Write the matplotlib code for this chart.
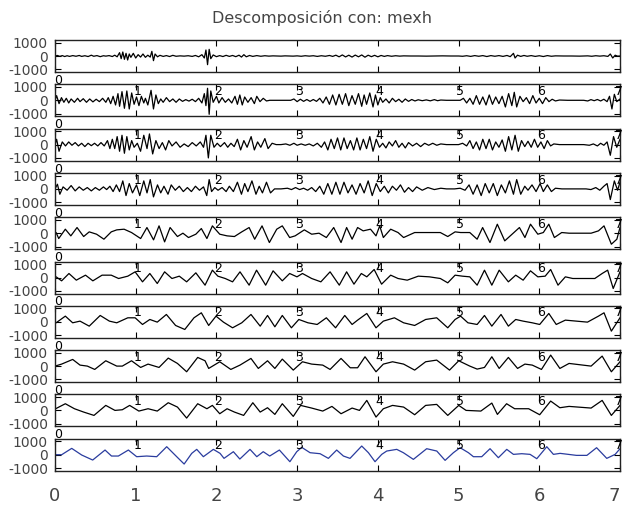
import numpy as np
import matplotlib.pyplot as plt

# Coeficientes de la descomposición (tiempo, amplitud), leídos escala por escala
escala_1 = [(0.00, 0), (0.03, 40), (0.06, -30), (0.09, 30), (0.12, -40), (0.15, 20), (0.18, -30),
            (0.22, 30), (0.26, -20), (0.30, 40), (0.33, -30), (0.37, 20), (0.41, -40), (0.45, 60),
            (0.48, -20), (0.52, 30), (0.56, -50), (0.60, 20), (0.63, -10), (0.67, 30), (0.71, -40),
            (0.74, 60), (0.77, -60), (0.80, 250), (0.82, -200), (0.84, 300), (0.86, -250),
            (0.88, 200), (0.90, -300), (0.92, 150), (0.94, -100), (0.97, 200), (1.00, -150),
            (1.03, 100), (1.06, -80), (1.09, 150), (1.12, -100), (1.15, 60), (1.18, -80),
            (1.20, 350), (1.22, -350), (1.24, 150), (1.27, -60), (1.30, 50), (1.34, -30),
            (1.38, 30), (1.42, -40), (1.46, 50), (1.50, -20), (1.55, 10), (1.60, -10), (1.65, 20),
            (1.70, -30), (1.74, 40), (1.78, -60), (1.82, 100), (1.85, -150), (1.87, 450),
            (1.89, -650), (1.91, 500), (1.93, -200), (1.96, 80), (2.00, -50), (2.04, 30),
            (2.08, -40), (2.12, 50), (2.16, -30), (2.20, 40), (2.24, -50), (2.28, 60), (2.31, -80),
            (2.34, 100), (2.37, -60), (2.41, 40), (2.45, -30), (2.50, 30), (2.55, -20), (2.60, 20),
            (2.65, -10), (2.70, 10), (2.75, 0), (2.80, -10), (2.85, 10), (2.90, 0), (2.95, -10),
            (3.00, 10), (3.05, -20), (3.10, 20), (3.15, -10), (3.20, 20), (3.25, -30), (3.30, 20),
            (3.35, -20), (3.40, 40), (3.44, -30), (3.48, 60), (3.52, -60), (3.56, 80), (3.60, -70),
            (3.64, 60), (3.68, -80), (3.72, 70), (3.76, -60), (3.80, 80), (3.84, -90), (3.88, 60),
            (3.92, -50), (3.96, 50), (4.00, -60), (4.04, 40), (4.08, -30), (4.12, 30), (4.17, -20),
            (4.22, 20), (4.27, -10), (4.32, 10), (4.40, 0), (4.50, 0), (4.60, -10), (4.70, 0),
            (4.80, 10), (4.90, 0), (5.00, 0), (5.05, -20), (5.10, 20), (5.15, -30), (5.20, 30),
            (5.25, -20), (5.30, 30), (5.35, -40), (5.40, 30), (5.45, -20), (5.50, 30), (5.55, -30),
            (5.60, 40), (5.64, -50), (5.68, 200), (5.70, -150), (5.73, 60), (5.77, -30),
            (5.81, 40), (5.85, -20), (5.90, 30), (5.95, -30), (6.00, 20), (6.05, -40), (6.10, 30),
            (6.15, -20), (6.20, 10), (6.30, 0), (6.40, 0), (6.50, -10), (6.60, 10), (6.65, -20),
            (6.70, 20), (6.75, -10), (6.80, 20), (6.85, -30), (6.88, 150), (6.91, -150),
            (6.94, 60), (6.97, -10), (7.00, 0)]

escala_2 = [(0.00, 0), (0.02, 350), (0.05, -250), (0.08, 200), (0.11, -150), (0.14, 150),
            (0.17, -200), (0.20, 100), (0.24, -150), (0.28, 150), (0.31, -100), (0.35, 120),
            (0.39, -150), (0.43, 100), (0.47, -120), (0.51, 80), (0.55, -100), (0.59, 150),
            (0.63, -150), (0.66, 200), (0.69, -250), (0.72, 300), (0.75, -350), (0.78, 500),
            (0.80, -450), (0.83, 650), (0.86, -600), (0.89, 700), (0.92, -650), (0.95, 550),
            (0.98, -300), (1.01, 250), (1.04, -400), (1.07, 300), (1.10, -200), (1.12, 150),
            (1.15, -350), (1.19, 750), (1.22, -650), (1.25, 400), (1.28, -250), (1.31, 100),
            (1.34, -150), (1.38, 200), (1.42, -100), (1.46, 100), (1.50, -150), (1.54, 100),
            (1.58, -80), (1.62, 50), (1.66, -60), (1.70, 80), (1.74, -100), (1.78, 150),
            (1.82, -200), (1.85, 500), (1.87, -400), (1.89, 900), (1.91, -1050), (1.93, 700),
            (1.96, -150), (2.00, 300), (2.03, -200), (2.07, 200), (2.11, -150), (2.15, 100),
            (2.19, -200), (2.23, 300), (2.26, -300), (2.29, 400), (2.32, -350), (2.35, 250),
            (2.39, -150), (2.43, 200), (2.47, -250), (2.50, 300), (2.54, -100), (2.58, 150),
            (2.62, -50), (2.66, 0), (2.75, 0), (2.85, 0), (2.92, 0), (2.96, 100), (3.00, -100),
            (3.04, 80), (3.08, -80), (3.12, 60), (3.16, -80), (3.20, 60), (3.24, -80), (3.28, 150),
            (3.32, -200), (3.36, 250), (3.40, -300), (3.44, 400), (3.48, -350), (3.52, 450),
            (3.56, -300), (3.60, 500), (3.64, -400), (3.68, 350), (3.72, -300), (3.76, 500),
            (3.80, -450), (3.83, 400), (3.86, -300), (3.90, 550), (3.94, -500), (3.97, 400),
            (4.00, -350), (4.03, 200), (4.06, -150), (4.10, 100), (4.14, -200), (4.18, 150),
            (4.22, -100), (4.26, 80), (4.30, -150), (4.34, 100), (4.38, -80), (4.42, 60),
            (4.46, -50), (4.50, 40), (4.55, -30), (4.60, 30), (4.65, -40), (4.70, 50), (4.74, -30),
            (4.78, 20), (4.85, 0), (4.95, 0), (5.02, 0), (5.06, 150), (5.10, -200), (5.14, 150),
            (5.18, -300), (5.22, 350), (5.26, -300), (5.30, 250), (5.34, -350), (5.38, 400),
            (5.42, -300), (5.46, 250), (5.50, -250), (5.54, 300), (5.58, -500), (5.62, 500),
            (5.66, -400), (5.69, 600), (5.72, -500), (5.76, 300), (5.80, -100), (5.84, 200),
            (5.88, -250), (5.92, 350), (5.96, -200), (6.00, 150), (6.04, -250), (6.08, 200),
            (6.12, -100), (6.16, 80), (6.20, -50), (6.25, 20), (6.35, 0), (6.45, 0), (6.55, 0),
            (6.60, -50), (6.64, 50), (6.68, -30), (6.72, 60), (6.76, -50), (6.80, 80), (6.84, -100),
            (6.87, 300), (6.90, -650), (6.93, 450), (6.96, -100), (7.00, 100)]

escala_3 = [(0.00, 0), (0.02, 400), (0.05, -500), (0.09, 200), (0.13, -100), (0.17, 200),
            (0.21, -50), (0.25, 150), (0.29, -100), (0.33, 100), (0.37, -150), (0.41, 100),
            (0.45, -80), (0.49, 100), (0.53, -100), (0.57, 150), (0.61, -100), (0.65, 300),
            (0.68, -300), (0.71, 400), (0.74, -300), (0.77, 600), (0.80, -500), (0.83, 700),
            (0.86, -650), (0.89, 600), (0.92, -400), (0.95, 300), (0.98, -200), (1.02, 100),
            (1.06, -500), (1.10, 700), (1.14, -300), (1.17, 800), (1.21, -700), (1.25, 300),
            (1.29, -300), (1.33, 150), (1.37, -400), (1.41, 300), (1.45, -100), (1.50, 200),
            (1.55, -200), (1.60, 50), (1.65, -150), (1.70, 150), (1.75, -100), (1.80, 200),
            (1.84, -200), (1.87, 700), (1.90, -1000), (1.93, 700), (1.97, -200), (2.01, 100),
            (2.05, -150), (2.10, 150), (2.14, -200), (2.18, 100), (2.22, -150), (2.26, 400),
            (2.30, -400), (2.34, 300), (2.38, -200), (2.43, 600), (2.47, -400), (2.51, 200),
            (2.55, -200), (2.60, 450), (2.64, -300), (2.69, 100), (2.74, 0), (2.80, 0), (2.86, 50),
            (2.91, -50), (2.96, 100), (3.00, -50), (3.05, 50), (3.10, -50), (3.15, 50),
            (3.20, -100), (3.25, 100), (3.30, -200), (3.34, 200), (3.38, -400), (3.42, 400),
            (3.46, -300), (3.50, 500), (3.54, -400), (3.58, 500), (3.62, -300), (3.66, 300),
            (3.70, -400), (3.74, 500), (3.78, -400), (3.82, 400), (3.86, -300), (3.90, 600),
            (3.94, -500), (3.98, 400), (4.02, -200), (4.06, 100), (4.10, -250), (4.14, 200),
            (4.18, -100), (4.22, 300), (4.26, -200), (4.30, 100), (4.34, -250), (4.38, 150),
            (4.43, -100), (4.48, 100), (4.53, -150), (4.58, 100), (4.63, -50), (4.68, 100),
            (4.73, -50), (4.78, 50), (4.85, 0), (4.95, 0), (5.00, 0), (5.05, 100), (5.10, -100),
            (5.14, 300), (5.18, -300), (5.22, 200), (5.26, -400), (5.30, 400), (5.34, -300),
            (5.38, 400), (5.42, -400), (5.46, 200), (5.50, -200), (5.54, 350), (5.58, -500),
            (5.62, 600), (5.66, -400), (5.70, 700), (5.74, -500), (5.78, 300), (5.82, -150),
            (5.86, 250), (5.90, -200), (5.94, 400), (5.98, -200), (6.02, 200), (6.06, -300),
            (6.10, 300), (6.14, -100), (6.18, 50), (6.25, 0), (6.35, 0), (6.45, 0), (6.55, 0),
            (6.62, -50), (6.67, 50), (6.72, -100), (6.76, 100), (6.80, -50), (6.84, 200),
            (6.88, -800), (6.92, 600), (6.96, -200), (7.00, 400)]

escala_4 = [(0.00, 0), (0.03, 350), (0.06, -400), (0.10, 150), (0.15, -100), (0.20, 250),
            (0.25, -150), (0.30, 150), (0.35, -100), (0.40, 100), (0.45, -150), (0.50, 100),
            (0.55, -100), (0.60, 150), (0.64, -50), (0.68, 200), (0.72, -200), (0.76, 300),
            (0.80, -200), (0.84, 600), (0.88, -500), (0.92, 400), (0.96, -300), (1.01, 300),
            (1.05, -500), (1.10, 600), (1.14, -300), (1.18, 700), (1.22, -600), (1.27, 300),
            (1.31, -300), (1.35, 200), (1.40, -400), (1.44, 300), (1.49, -100), (1.54, 200),
            (1.59, -200), (1.64, 100), (1.69, -200), (1.74, 200), (1.79, -100), (1.84, 150),
            (1.88, -500), (1.91, 700), (1.94, -200), (1.98, 100), (2.02, -100), (2.07, 100),
            (2.12, -200), (2.16, 200), (2.21, -200), (2.26, 500), (2.31, -400), (2.35, 400),
            (2.39, -200), (2.44, 600), (2.49, -400), (2.53, 200), (2.57, -300), (2.62, 500),
            (2.67, -300), (2.72, 0), (2.80, 0), (2.88, 50), (2.93, -50), (2.98, 100), (3.03, -50),
            (3.08, 50), (3.13, -100), (3.18, 100), (3.23, -200), (3.28, 200), (3.33, -400),
            (3.38, 400), (3.43, -400), (3.48, 500), (3.53, -400), (3.58, 500), (3.63, -300),
            (3.68, 300), (3.73, -400), (3.78, 400), (3.83, -300), (3.88, 600), (3.93, -500),
            (3.98, 400), (4.03, -200), (4.08, 200), (4.13, -300), (4.18, 200), (4.23, -100),
            (4.28, 300), (4.33, -250), (4.38, 100), (4.43, -200), (4.48, 150), (4.55, -100),
            (4.62, 100), (4.70, -50), (4.78, 50), (4.85, 0), (4.95, 0), (5.02, 50), (5.08, -100),
            (5.13, 300), (5.18, -400), (5.23, 300), (5.28, -500), (5.33, 400), (5.38, -300),
            (5.43, 400), (5.48, -500), (5.53, 300), (5.58, -300), (5.63, 600), (5.68, -400),
            (5.72, 700), (5.77, -400), (5.82, 200), (5.86, -100), (5.91, 300), (5.96, -200),
            (6.01, 400), (6.05, -200), (6.10, 300), (6.15, -200), (6.20, 50), (6.28, 0),
            (6.40, 0), (6.50, 0), (6.58, 0), (6.64, -50), (6.70, 100), (6.75, -100), (6.80, 200),
            (6.84, 400), (6.88, -800), (6.93, 600), (6.97, -100), (7.00, 500)]

escala_5 = [(0.00, 0), (0.014, 50), (0.046, -400), (0.128, 300), (0.196, -200), (0.273, 425),
            (0.355, -250), (0.424, 100), (0.515, -75), (0.606, -450), (0.697, 100), (0.765, 250),
            (0.856, 300), (0.948, 50), (1.061, -400), (1.139, 425), (1.221, -500), (1.289, 550),
            (1.358, -650), (1.426, 425), (1.517, -250), (1.585, 0), (1.654, -325), (1.745, -75),
            (1.813, 350), (1.882, -400), (1.95, 550), (2.041, -75), (2.132, -200), (2.223, -250),
            (2.314, 100), (2.405, 425), (2.474, -450), (2.565, 550), (2.656, -700), (2.747, 300),
            (2.816, 550), (2.907, -325), (2.975, -200), (3.089, 250), (3.18, -75), (3.271, 0),
            (3.362, -325), (3.453, 425), (3.544, -700), (3.613, 425), (3.681, -450), (3.749, 425),
            (3.818, 175), (3.909, 300), (3.977, -200), (4.023, 550), (4.068, -325), (4.159, 300),
            (4.25, 50), (4.319, -325), (4.456, 50), (4.638, 50), (4.774, 50), (4.866, -250),
            (4.957, 100), (5.025, 50), (5.139, 50), (5.23, -450), (5.298, 425), (5.389, -700),
            (5.48, 675), (5.572, -575), (5.663, -75), (5.754, 425), (5.822, -325), (5.891, 675),
            (5.982, -75), (6.05, 50), (6.118, 675), (6.187, -325), (6.278, 50), (6.369, 0),
            (6.642, 0), (6.733, 175), (6.802, 550), (6.893, -825), (6.961, -450), (7.00, 425)]

escala_6 = [(0.00, 0), (0.014, 50), (0.082, -250), (0.173, 300), (0.264, -200), (0.378, 175),
            (0.469, -250), (0.583, 175), (0.697, 175), (0.788, -75), (0.902, 100), (0.993, 425),
            (1.084, -325), (1.175, 300), (1.267, -450), (1.358, 425), (1.449, -75), (1.54, 100),
            (1.631, -325), (1.745, 350), (1.859, -575), (1.95, 550), (2.018, 100), (2.109, -75),
            (2.2, -325), (2.292, 425), (2.405, -575), (2.497, 550), (2.61, -575), (2.702, 500),
            (2.816, -250), (2.907, 300), (2.998, 50), (3.066, 300), (3.18, -75), (3.294, -325),
            (3.408, 425), (3.522, -575), (3.613, 425), (3.704, -500), (3.795, 300), (3.863, 50),
            (3.954, 600), (4.046, -500), (4.159, 175), (4.25, -75), (4.364, -200), (4.501, 100),
            (4.638, 50), (4.774, -75), (4.866, -400), (4.957, 175), (5.048, 100), (5.139, 50),
            (5.23, -575), (5.321, 550), (5.412, -575), (5.503, 550), (5.617, -325), (5.708, 175),
            (5.8, -200), (5.891, 500), (5.982, 50), (6.073, 100), (6.141, 600), (6.232, -575),
            (6.323, 50), (6.415, -75), (6.688, -75), (6.779, 300), (6.847, 550), (6.916, -825),
            (7.00, 425)]

escala_7 = [(0.00, -50), (0.014, -75), (0.128, 425), (0.219, -75), (0.31, 50), (0.424, -325),
            (0.56, 475), (0.674, 50), (0.765, -75), (0.902, 300), (0.993, 300), (1.084, -200),
            (1.175, 175), (1.267, -25), (1.38, 550), (1.494, -275), (1.608, -575), (1.722, 300),
            (1.813, 675), (1.904, -275), (1.995, 425), (2.087, -25), (2.2, -450), (2.314, -75),
            (2.428, 550), (2.542, -325), (2.633, 475), (2.724, -375), (2.816, 475), (2.929, -450),
            (3.021, 175), (3.134, -75), (3.248, -200), (3.362, 300), (3.476, -450), (3.59, 475),
            (3.681, -200), (3.749, 125), (3.863, 625), (3.977, -450), (4.068, 50), (4.205, 300),
            (4.319, -75), (4.456, -275), (4.592, 175), (4.729, 300), (4.866, -450), (4.957, 175),
            (5.025, 425), (5.116, -75), (5.23, -200), (5.321, 475), (5.412, -325), (5.526, 550),
            (5.617, -325), (5.708, 175), (5.8, 50), (5.913, -75), (6.005, -200), (6.118, 625),
            (6.21, -200), (6.323, 125), (6.597, -25), (6.733, 425), (6.802, 675), (6.893, -700),
            (7.00, 300)]

escala_8 = [(0.00, 0), (0.082, 150), (0.219, 500), (0.31, 75), (0.401, 0), (0.492, -250),
            (0.629, 400), (0.765, 0), (0.834, 0), (0.948, 400), (1.061, -100), (1.153, 150),
            (1.289, -100), (1.403, 600), (1.517, 200), (1.631, -425), (1.768, 650), (1.859, 400),
            (1.904, -175), (2.041, 325), (2.178, -250), (2.292, 75), (2.428, 575), (2.519, -175),
            (2.633, 400), (2.724, -175), (2.816, 525), (2.952, -300), (3.066, 325), (3.18, 150),
            (3.317, 75), (3.408, -250), (3.544, 575), (3.658, -125), (3.749, -125), (3.841, 700),
            (3.977, -425), (4.068, 150), (4.182, 325), (4.319, 150), (4.456, -300), (4.592, 325),
            (4.729, 450), (4.888, -300), (5.002, 400), (5.139, 0), (5.23, -225), (5.321, -100),
            (5.412, 700), (5.503, -175), (5.617, 650), (5.731, -175), (5.822, 150), (5.913, 75),
            (6.027, -250), (6.141, 825), (6.255, -175), (6.369, 200), (6.642, 0), (6.779, 750),
            (6.893, -425), (7.00, 325)]

escala_9 = [(0.00, 100), (0.128, 500), (0.241, 125), (0.355, -125), (0.483, -375), (0.629, 375),
            (0.743, 0), (0.834, 50), (0.925, 375), (1.039, -50), (1.153, 125), (1.267, -50),
            (1.403, 575), (1.517, 250), (1.631, -575), (1.768, 500), (1.882, 125), (1.95, 375),
            (2.041, -250), (2.132, 125), (2.223, -125), (2.337, -375), (2.451, 575), (2.542, -125),
            (2.633, 200), (2.724, -300), (2.816, 500), (2.952, -450), (3.043, 375), (3.18, 175),
            (3.317, -50), (3.431, 300), (3.544, -250), (3.681, 175), (3.772, 0), (3.863, 750),
            (3.977, -500), (4.068, 125), (4.182, 375), (4.319, 250), (4.456, -325), (4.592, 375),
            (4.729, 450), (4.866, -375), (5.002, 375), (5.093, 0), (5.276, -50), (5.412, 550),
            (5.481, -300), (5.595, 500), (5.695, 125), (5.868, 125), (6.005, -325), (6.141, 700),
            (6.255, 200), (6.369, 300), (6.642, 175), (6.779, 750), (6.893, -375), (7.00, 375)]

escala_10 = [(0.00, 0), (0.083, 0), (0.207, 475), (0.331, -25), (0.467, -400), (0.62, 350),
             (0.70, -100), (0.785, -100), (0.909, 350), (1.012, -150), (1.136, -100), (1.26, -150),
             (1.384, 600), (1.508, -150), (1.60, -700), (1.694, 100), (1.756, 400), (1.838, -150),
             (1.962, 400), (2.045, 100), (2.094, -275), (2.21, 225), (2.29, -325), (2.416, 400),
             (2.50, -150), (2.58, 225), (2.66, -100), (2.78, 350), (2.91, -525), (2.995, 225),
             (3.057, 550), (3.16, 150), (3.284, 75), (3.387, -275), (3.49, 350), (3.573, -100),
             (3.655, -275), (3.80, 650), (3.883, 150), (3.965, -525), (4.048, 25), (4.11, 275),
             (4.234, 400), (4.316, 150), (4.44, -350), (4.605, 450), (4.73, 275), (4.833, -425),
             (4.936, 150), (5.019, 525), (5.122, 150), (5.184, -150), (5.287, -150), (5.39, 450),
             (5.493, -225), (5.597, 400), (5.68, 25), (5.783, 75), (5.886, 25), (5.969, -300),
             (6.093, 600), (6.175, 25), (6.258, 100), (6.36, 25), (6.46, -50), (6.59, -50),
             (6.71, 525), (6.836, -275), (6.94, 25), (7.00, 450)]

escalas = [escala_1, escala_2, escala_3, escala_4, escala_5,
           escala_6, escala_7, escala_8, escala_9, escala_10]
colores = ['black'] * 9 + ['#2a3c9e']
marcas_x = [0, 1, 2, 3, 4, 5, 6, 7]
marcas_y = [-1000, 0, 1000]
titulo = 'Descomposición con: mexh'

W, H = 623, 508
fig = plt.figure(figsize=(W / 100, H / 100), dpi=100)
gris = '#444444'

for i, serie in enumerate(escalas):
    arriba = 40 + 44.3 * i
    ax = fig.add_axes([55 / W, 1 - (arriba + 32) / H, 565 / W, 32 / H])
    t, v = np.array(serie, dtype=float).T
    ax.plot(t, v, color=colores[i], lw=0.9, solid_joinstyle='round')
    ax.set_xlim(0, 7)
    ax.set_ylim(-1200, 1200)
    ax.set_yticks(marcas_y)
    ax.set_yticklabels([str(m) for m in marcas_y])
    ax.set_xticks(marcas_x)
    ax.tick_params(direction='in', top=True, right=True, length=4, width=0.8,
                   labelsize=10, labelcolor=gris, pad=5)
    for s in ax.spines.values():
        s.set_linewidth(1.0)
        s.set_color('#222222')
    trans = ax.get_xaxis_transform()
    if i < len(escalas) - 1:
        ax.set_xticklabels([])
        ax.text(0.04, -0.06, '0', transform=trans, ha='center', va='top',
                fontsize=9, color='black', clip_on=False)
    else:
        ax.set_xticklabels([str(m) for m in marcas_x])
        ax.tick_params(axis='x', labelsize=13, pad=12)
        ax.get_xticklabels()[-1].set_ha('right')
    if i > 0:
        for k in marcas_x[1:-1]:
            ax.text(k + 0.02, 0.98, str(k), transform=trans, ha='center', va='top',
                    fontsize=9, color='black', clip_on=False, zorder=5)
        ax.text(7.035, 0.98, str(marcas_x[-1]), transform=trans, ha='right', va='top',
                fontsize=9, color='black', clip_on=False, zorder=5)

fig.text(322 / W, 1 - 18 / H, titulo, ha='center', va='center',
         fontsize=11.5, color=gris)

fig.savefig('out.png', dpi=100)
